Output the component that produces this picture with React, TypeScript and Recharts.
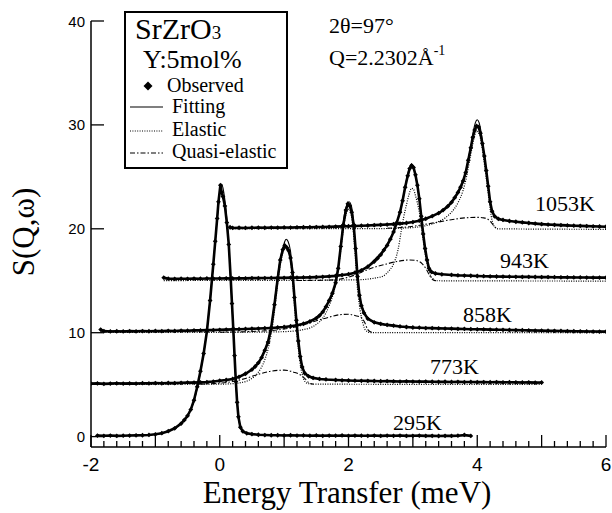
import React from "react";
import { ComposedChart, Line, XAxis, YAxis } from "recharts";

type Pt = [number, number];

const SERIF = "'Liberation Serif', 'DejaVu Serif', serif";
const SANS = "'Liberation Sans', Arial, sans-serif";

const temperatures = ["295K", "773K", "858K", "943K", "1053K"];
const xLabelTicks = [-2, 0, 2, 4, 6];
const yTicks = [0, 10, 20, 30, 40];
// minor ticks every 0.2 meV
const xTicks = Array.from({ length: 41 }, (_, i) => Math.round((-2 + i * 0.2) * 10) / 10);

// ---- 295K (no shift) ----
const obs295: Pt[] = [
  [-1.9, 0.1], [-1.8, 0.08], [-1.7, 0.1], [-1.6, 0.07], [-1.5, 0.09], [-1.4, 0.1], [-1.3, 0.12], [-1.2, 0.13],
  [-1.1, 0.16], [-1.0, 0.22], [-0.9, 0.33], [-0.8, 0.52], [-0.7, 0.8], [-0.6, 1.25], [-0.55, 1.6], [-0.5, 2.0],
  [-0.45, 2.6], [-0.4, 3.5], [-0.35, 4.8], [-0.3, 6.3], [-0.25, 8.0], [-0.2, 10.1], [-0.15, 13.1], [-0.1, 16.6],
  [-0.07, 18.8], [-0.04, 21.0], [-0.02, 22.6], [0.01, 24.2], [0.03, 23.5], [0.05, 23.1], [0.08, 22.2], [0.11, 20.6],
  [0.14, 18.5], [0.17, 15.2], [0.19, 12.8], [0.21, 10.4], [0.23, 7.8], [0.25, 5.3], [0.27, 3.3], [0.29, 1.9],
  [0.32, 0.9], [0.36, 0.5], [0.42, 0.32], [0.5, 0.24], [0.6, 0.18], [0.7, 0.15], [0.8, 0.13], [0.9, 0.13],
  [1.0, 0.11], [1.1, 0.13], [1.2, 0.1], [1.3, 0.11], [1.4, 0.09], [1.5, 0.11], [1.6, 0.08], [1.7, 0.1],
  [1.8, 0.09], [1.9, 0.11], [2.0, 0.08], [2.1, 0.1], [2.2, 0.09], [2.3, 0.08], [2.4, 0.1], [2.5, 0.07],
  [2.6, 0.09], [2.7, 0.08], [2.8, 0.1], [2.9, 0.07], [3.0, 0.08], [3.1, 0.09], [3.2, 0.07], [3.3, 0.08],
  [3.4, 0.06], [3.5, 0.08], [3.6, 0.07], [3.7, 0.09], [3.8, 0.16], [3.9, 0.07],
];
const fit295: Pt[] = [
  [-1.9, 0.09], [-1.2, 0.13], [-1.0, 0.22], [-0.9, 0.33], [-0.8, 0.52], [-0.7, 0.8], [-0.6, 1.25], [-0.5, 2.0],
  [-0.4, 3.4], [-0.3, 6.2], [-0.2, 10.2], [-0.1, 16.6], [-0.05, 20.3], [0.0, 23.3], [0.03, 24.3], [0.06, 23.6],
  [0.1, 21.6], [0.14, 18.5], [0.18, 14.0], [0.22, 9.0], [0.26, 4.3], [0.29, 1.9], [0.33, 0.8], [0.4, 0.35],
  [0.5, 0.24], [0.8, 0.13], [3.9, 0.08],
];

// ---- 773K (shift +1 meV, +5) ----
const obs773: Pt[] = [
  [-2.0, 5.1], [-1.9, 5.12], [-1.8, 5.08], [-1.7, 5.1], [-1.6, 5.13], [-1.5, 5.1], [-1.4, 5.12], [-1.3, 5.1],
  [-1.2, 5.14], [-1.1, 5.12], [-1.0, 5.15], [-0.9, 5.13], [-0.8, 5.16], [-0.7, 5.15], [-0.6, 5.18], [-0.5, 5.2],
  [-0.4, 5.2], [-0.3, 5.22], [-0.2, 5.25], [-0.1, 5.3], [0.0, 5.38], [0.1, 5.45], [0.2, 5.55], [0.3, 5.75],
  [0.4, 6.05], [0.5, 6.45], [0.55, 6.75], [0.6, 7.1], [0.65, 7.6], [0.7, 8.3], [0.75, 9.1], [0.8, 10.5],
  [0.85, 12.7], [0.9, 15.2], [0.94, 17.0], [0.98, 18.0], [1.01, 18.4], [1.04, 18.2], [1.07, 17.9], [1.1, 17.2],
  [1.13, 15.8], [1.16, 13.4], [1.19, 11.2], [1.22, 9.2], [1.25, 7.7], [1.28, 6.7], [1.32, 6.1], [1.38, 5.8],
  [1.45, 5.65], [1.55, 5.55], [1.65, 5.5], [1.8, 5.45], [1.9, 5.42], [2.0, 5.4], [2.1, 5.38], [2.2, 5.37],
  [2.3, 5.36], [2.4, 5.35], [2.5, 5.33], [2.6, 5.34], [2.7, 5.32], [2.8, 5.3], [2.9, 5.32], [3.0, 5.3],
  [3.1, 5.29], [3.2, 5.3], [3.3, 5.28], [3.4, 5.27], [3.5, 5.28], [3.6, 5.26], [3.7, 5.27], [3.8, 5.25],
  [3.9, 5.26], [4.0, 5.24], [4.1, 5.25], [4.2, 5.23], [4.3, 5.24], [4.4, 5.22], [4.5, 5.23], [4.6, 5.22],
  [4.7, 5.21], [4.8, 5.22], [4.9, 5.2], [5.0, 5.21],
];
const fit773: Pt[] = [
  [-2.0, 5.1], [-1.0, 5.14], [-0.5, 5.2], [0.0, 5.38], [0.2, 5.55], [0.4, 6.05], [0.5, 6.45], [0.6, 7.1],
  [0.7, 8.3], [0.75, 9.2], [0.8, 10.6], [0.85, 12.9], [0.9, 15.5], [0.95, 17.4], [1.0, 18.6], [1.03, 19.0],
  [1.06, 18.8], [1.1, 17.8], [1.14, 15.1], [1.18, 11.9], [1.22, 9.3], [1.26, 7.4], [1.3, 6.4], [1.35, 6.0],
  [1.5, 5.6], [1.8, 5.45], [2.5, 5.33], [3.5, 5.27], [5.0, 5.2],
];
const elastic773: Pt[] = [
  [-2.0, 5.02], [0.0, 5.05], [0.2, 5.1], [0.4, 5.3], [0.5, 5.6], [0.6, 6.2], [0.7, 7.4], [0.75, 8.4],
  [0.8, 9.9], [0.85, 12.1], [0.9, 14.7], [0.95, 16.9], [1.0, 18.1], [1.03, 18.4], [1.06, 18.1], [1.1, 17.0],
  [1.14, 14.3], [1.18, 11.1], [1.22, 8.5], [1.26, 6.6], [1.3, 5.6], [1.35, 5.15], [1.45, 5.05], [5.0, 5.02],
];
const quasi773: Pt[] = [
  [-0.3, 5.05], [0.0, 5.15], [0.2, 5.3], [0.4, 5.6], [0.6, 6.0], [0.8, 6.3], [1.0, 6.4], [1.15, 6.2],
  [1.25, 5.95], [1.32, 5.6], [1.38, 5.2], [1.45, 5.05],
];

// ---- 858K (shift +2 meV, +10) ----
const obs858: Pt[] = [
  [-1.85, 10.3], [-1.8, 10.15], [-1.7, 10.12], [-1.6, 10.14], [-1.5, 10.12], [-1.4, 10.15], [-1.3, 10.13],
  [-1.2, 10.16], [-1.1, 10.14], [-1.0, 10.17], [-0.9, 10.15], [-0.8, 10.18], [-0.7, 10.17], [-0.6, 10.2],
  [-0.5, 10.19], [-0.4, 10.22], [-0.3, 10.22], [-0.2, 10.25], [-0.1, 10.25], [0.0, 10.28], [0.1, 10.3],
  [0.2, 10.32], [0.3, 10.34], [0.4, 10.36], [0.5, 10.38], [0.6, 10.4], [0.7, 10.43], [0.8, 10.46], [0.9, 10.5],
  [1.0, 10.55], [1.1, 10.62], [1.2, 10.72], [1.3, 10.86], [1.4, 11.08], [1.5, 11.4], [1.55, 11.65], [1.6, 12.0],
  [1.65, 12.5], [1.7, 13.1], [1.75, 13.8], [1.8, 14.8], [1.84, 16.2], [1.88, 18.3], [1.92, 20.4], [1.96, 21.8],
  [1.99, 22.4], [2.02, 22.2], [2.05, 21.6], [2.08, 20.4], [2.11, 18.1], [2.14, 15.4], [2.17, 13.6], [2.2, 12.6],
  [2.24, 11.9], [2.3, 11.35], [2.4, 11.0], [2.5, 10.85], [2.6, 10.75], [2.7, 10.68], [2.8, 10.6], [2.9, 10.55],
  [3.0, 10.5], [3.1, 10.48], [3.2, 10.45], [3.3, 10.44], [3.4, 10.42], [3.5, 10.4], [3.6, 10.39], [3.7, 10.37],
  [3.8, 10.36], [3.9, 10.34], [4.0, 10.33], [4.1, 10.32], [4.2, 10.3], [4.3, 10.29], [4.4, 10.28], [4.5, 10.26],
  [4.6, 10.25], [4.7, 10.24], [4.8, 10.22], [4.9, 10.21], [5.0, 10.2], [5.1, 10.19], [5.2, 10.18], [5.3, 10.17],
  [5.4, 10.15], [5.5, 10.14], [5.6, 10.13], [5.7, 10.12], [5.8, 10.11], [5.9, 10.1], [6.0, 10.1],
];
const fit858: Pt[] = [
  [-1.85, 10.15], [-1.0, 10.17], [0.0, 10.28], [0.5, 10.38], [1.0, 10.55], [1.2, 10.72], [1.4, 11.1], [1.5, 11.45],
  [1.6, 12.05], [1.68, 12.9], [1.77, 14.1], [1.82, 15.4], [1.86, 17.3], [1.9, 19.6], [1.94, 21.5], [1.98, 22.4],
  [2.01, 22.6], [2.04, 22.3], [2.07, 21.2], [2.1, 18.9], [2.13, 15.9], [2.17, 13.5], [2.23, 12.2], [2.3, 11.4],
  [2.4, 11.0], [2.5, 10.85], [3.0, 10.5], [4.0, 10.33], [5.0, 10.2], [6.0, 10.1],
];
const elastic858: Pt[] = [
  [-1.85, 10.02], [0.5, 10.05], [1.0, 10.1], [1.3, 10.3], [1.5, 10.8], [1.6, 11.4], [1.7, 12.6], [1.77, 13.9],
  [1.82, 15.3], [1.86, 17.0], [1.9, 19.0], [1.94, 20.8], [1.98, 21.7], [2.01, 21.9], [2.04, 21.4], [2.07, 20.0],
  [2.1, 17.8], [2.13, 14.9], [2.17, 12.6], [2.22, 11.0], [2.27, 10.2], [2.35, 10.0], [6.0, 10.0],
];
const quasi858: Pt[] = [
  [0.0, 10.05], [0.5, 10.12], [1.0, 10.35], [1.3, 10.75], [1.5, 11.15], [1.7, 11.5], [1.85, 11.72], [2.0, 11.78],
  [2.1, 11.65], [2.2, 11.45], [2.25, 11.0], [2.3, 10.3], [2.36, 10.05],
];

// ---- 943K (shift +3 meV, +15) ----
const obs943: Pt[] = [
  [-0.87, 15.3], [-0.8, 15.2], [-0.7, 15.18], [-0.6, 15.2], [-0.5, 15.19], [-0.4, 15.21], [-0.3, 15.2],
  [-0.2, 15.22], [-0.1, 15.21], [0.0, 15.22], [0.1, 15.23], [0.2, 15.22], [0.3, 15.24], [0.4, 15.23], [0.5, 15.25],
  [0.6, 15.25], [0.7, 15.26], [0.8, 15.27], [0.9, 15.28], [1.0, 15.28], [1.1, 15.3], [1.2, 15.3], [1.3, 15.32],
  [1.4, 15.33], [1.5, 15.35], [1.6, 15.38], [1.7, 15.42], [1.8, 15.47], [1.9, 15.55], [2.0, 15.63], [2.1, 15.78],
  [2.2, 16.0], [2.3, 16.35], [2.4, 16.85], [2.45, 17.15], [2.5, 17.5], [2.55, 17.95], [2.6, 18.4], [2.65, 19.0],
  [2.7, 19.7], [2.75, 20.6], [2.8, 21.6], [2.84, 22.7], [2.88, 24.0], [2.92, 25.1], [2.95, 25.8], [2.98, 26.1],
  [3.01, 25.9], [3.04, 25.2], [3.07, 24.2], [3.1, 22.9], [3.13, 21.2], [3.16, 19.5], [3.19, 18.1], [3.22, 17.0],
  [3.25, 16.2], [3.29, 15.85], [3.35, 15.7], [3.45, 15.62], [3.6, 15.56], [3.7, 15.52], [3.8, 15.5], [3.9, 15.48],
  [4.0, 15.46], [4.1, 15.44], [4.2, 15.42], [4.3, 15.41], [4.4, 15.4], [4.5, 15.39], [4.6, 15.38], [4.7, 15.37],
  [4.8, 15.37], [4.9, 15.36], [5.0, 15.35], [5.1, 15.35], [5.2, 15.34], [5.3, 15.33], [5.4, 15.33], [5.5, 15.32],
  [5.6, 15.32], [5.7, 15.31], [5.8, 15.3], [5.9, 15.3], [6.0, 15.3],
];
const fit943: Pt[] = [
  [-0.87, 15.2], [0.0, 15.22], [1.0, 15.28], [1.5, 15.35], [1.8, 15.47], [2.0, 15.63], [2.2, 16.0], [2.3, 16.4],
  [2.43, 17.2], [2.56, 18.1], [2.67, 19.3], [2.74, 20.5], [2.81, 21.8], [2.86, 23.4], [2.91, 25.0], [2.95, 25.9],
  [2.98, 26.2], [3.01, 26.0], [3.03, 25.4], [3.08, 23.8], [3.13, 21.2], [3.17, 18.9], [3.22, 17.0], [3.26, 15.95],
  [3.3, 15.75], [3.5, 15.6], [4.2, 15.42], [5.0, 15.35], [6.0, 15.3],
];
const elastic943: Pt[] = [
  [-0.87, 15.02], [1.5, 15.05], [2.17, 15.1], [2.4, 15.25], [2.54, 15.45], [2.62, 15.9], [2.69, 16.5], [2.77, 18.0],
  [2.82, 19.8], [2.86, 21.2], [2.9, 22.3], [2.94, 23.3], [2.98, 23.9], [3.01, 23.8], [3.04, 23.2], [3.07, 22.5],
  [3.1, 21.6], [3.14, 19.9], [3.18, 18.0], [3.22, 16.6], [3.26, 15.7], [3.31, 15.2], [3.36, 15.0], [6.0, 14.97],
];
const quasi943: Pt[] = [
  [1.2, 15.02], [1.6, 15.05], [1.8, 15.1], [2.0, 15.35], [2.12, 15.6], [2.25, 15.95], [2.4, 16.3], [2.55, 16.55],
  [2.75, 16.85], [2.95, 17.0], [3.05, 16.95], [3.15, 16.6], [3.21, 16.1], [3.26, 15.5], [3.31, 15.1], [3.36, 15.0],
];

// ---- 1053K (shift +4 meV, +20) ----
const obs1053: Pt[] = [
  [0.16, 20.15], [0.2, 20.08], [0.3, 20.1], [0.4, 20.08], [0.5, 20.1], [0.6, 20.11], [0.7, 20.1], [0.8, 20.12],
  [0.9, 20.11], [1.0, 20.13], [1.1, 20.12], [1.2, 20.14], [1.3, 20.15], [1.4, 20.15], [1.5, 20.17], [1.6, 20.18],
  [1.7, 20.19], [1.8, 20.21], [1.9, 20.23], [2.0, 20.25], [2.1, 20.27], [2.2, 20.3], [2.3, 20.32], [2.4, 20.35],
  [2.5, 20.38], [2.6, 20.41], [2.7, 20.45], [2.8, 20.5], [2.9, 20.56], [3.0, 20.65], [3.1, 20.78], [3.2, 20.97],
  [3.3, 21.22], [3.4, 21.5], [3.47, 21.8], [3.54, 22.15], [3.6, 22.55], [3.65, 23.0], [3.7, 23.5], [3.74, 24.0],
  [3.78, 24.6], [3.82, 25.4], [3.86, 26.6], [3.9, 27.8], [3.93, 28.8], [3.96, 29.5], [3.99, 29.9], [4.02, 29.8],
  [4.05, 29.2], [4.08, 28.2], [4.11, 27.0], [4.14, 25.6], [4.17, 24.1], [4.2, 22.6], [4.23, 21.7], [4.27, 21.2],
  [4.33, 20.95], [4.4, 20.85], [4.5, 20.75], [4.6, 20.68], [4.7, 20.62], [4.8, 20.56], [4.9, 20.5], [5.0, 20.45],
  [5.1, 20.41], [5.2, 20.38], [5.3, 20.35], [5.4, 20.33], [5.5, 20.3], [5.6, 20.28], [5.7, 20.26], [5.8, 20.24],
  [5.9, 20.22], [6.0, 20.2],
];
const fit1053: Pt[] = [
  [0.16, 20.08], [1.0, 20.12], [2.0, 20.25], [2.5, 20.38], [2.85, 20.52], [3.11, 20.8], [3.31, 21.25], [3.47, 21.8],
  [3.6, 22.5], [3.7, 23.4], [3.78, 24.5], [3.83, 25.7], [3.87, 27.0], [3.91, 28.2], [3.94, 29.4], [3.97, 30.2],
  [4.0, 30.5], [4.03, 30.2], [4.06, 29.3], [4.09, 27.9], [4.13, 26.0], [4.17, 24.1], [4.2, 22.5], [4.24, 21.5],
  [4.32, 21.0], [4.55, 20.7], [5.07, 20.4], [6.0, 20.2],
];
const elastic1053: Pt[] = [
  [0.16, 20.02], [2.4, 20.02], [2.8, 20.06], [3.0, 20.12], [3.2, 20.3], [3.4, 20.7], [3.5, 21.05], [3.6, 21.6],
  [3.7, 22.5], [3.78, 23.7], [3.83, 24.9], [3.87, 26.2], [3.91, 27.5], [3.95, 28.7], [3.99, 29.4], [4.02, 29.3],
  [4.05, 28.7], [4.09, 27.2], [4.13, 25.3], [4.17, 23.4], [4.2, 21.9], [4.23, 20.8], [4.27, 20.2], [4.32, 20.0],
  [6.0, 19.95],
];
const quasi1053: Pt[] = [
  [2.6, 20.05], [2.95, 20.2], [3.3, 20.55], [3.62, 20.9], [3.8, 21.05], [4.0, 21.1], [4.1, 21.05], [4.17, 20.9],
  [4.22, 20.6], [4.27, 20.2], [4.32, 20.02],
];

const toRows = (pts: Pt[]) => pts.map(([e, s]) => ({ e, s }));

const curves = [
  { id: temperatures[0], obs: obs295, fit: fit295, elastic: null, quasi: null },
  { id: temperatures[1], obs: obs773, fit: fit773, elastic: elastic773, quasi: quasi773 },
  { id: temperatures[2], obs: obs858, fit: fit858, elastic: elastic858, quasi: quasi858 },
  { id: temperatures[3], obs: obs943, fit: fit943, elastic: elastic943, quasi: quasi943 },
  { id: temperatures[4], obs: obs1053, fit: fit1053, elastic: elastic1053, quasi: quasi1053 },
];

// label positions for each temperature (pixels)
const curveLabels = [
  { text: "295K", x: 393, y: 430 },
  { text: "773K", x: 430, y: 374 },
  { text: "858K", x: 463, y: 322 },
  { text: "943K", x: 500, y: 268 },
  { text: "1053K", x: 535, y: 211 },
];

const diamondPath = (cx: number, cy: number, r: number) =>
  `M${cx},${cy - r}L${cx + r},${cy}L${cx},${cy + r}L${cx - r},${cy}Z`;

const serifStyle = (size: number): React.CSSProperties => ({ fontFamily: SERIF, fontSize: size });

const XTick = ({ x, y, payload }: any) => {
  const v = payload.value;
  const major = Math.abs(v - Math.round(v)) < 1e-6;
  return (
    <g>
      <line x1={x} x2={x} y1={y} y2={y - (major ? 12 : 6)} stroke="#000" strokeWidth={1.3} />
      {xLabelTicks.includes(v) && (
        <text x={x} y={y + 24} textAnchor="middle" style={{ fontFamily: SANS, fontSize: 19 }} fill="#000">
          {v}
        </text>
      )}
    </g>
  );
};

const YTick = ({ x, y, payload }: any) => (
  <g>
    <line x1={x} x2={x + 13} y1={y} y2={y} stroke="#000" strokeWidth={1.3} />
    <text x={x - 6} y={y + 5.5} textAnchor="end" style={{ fontFamily: SANS, fontSize: 15 }} fill="#000">
      {payload.value}
    </text>
  </g>
);

export default function App() {
  const series: React.ReactNode[] = [];
  curves.forEach((c) => {
    if (c.elastic) {
      series.push(
        <Line key={`el-${c.id}`} data={toRows(c.elastic)} dataKey="s" type="monotone" stroke="#000"
          strokeWidth={1.2} strokeDasharray="1 1.4" dot={false} activeDot={false} isAnimationActive={false} />
      );
    }
    if (c.quasi) {
      series.push(
        <Line key={`qe-${c.id}`} data={toRows(c.quasi)} dataKey="s" type="monotone" stroke="#000"
          strokeWidth={1.1} strokeDasharray="5 2 1.5 2" dot={false} activeDot={false} isAnimationActive={false} />
      );
    }
    series.push(
      <Line key={`ob-${c.id}`} data={toRows(c.obs)} dataKey="s" type="linear" stroke="#000" strokeWidth={2.6}
        activeDot={false} isAnimationActive={false}
        dot={(p: any) => <path key={`d-${c.id}-${p.index}`} d={diamondPath(p.cx, p.cy, 2.4)} fill="#000" />} />
    );
    series.push(
      <Line key={`fi-${c.id}`} data={toRows(c.fit)} dataKey="s" type="monotone" stroke="#000"
        strokeWidth={1.1} dot={false} activeDot={false} isAnimationActive={false} />
    );
  });

  return (
    <div style={{ position: "absolute", left: 0, top: 0, width: 612, height: 513, background: "#fff" }}>
      <ComposedChart width={612} height={513} margin={{ top: 21, right: 6, bottom: 0, left: 0 }}>
        <XAxis type="number" dataKey="e" domain={[-2, 6]} ticks={xTicks} interval={0} allowDataOverflow
          tick={(p: any) => <XTick {...p} />} tickLine={false} tickSize={0} tickMargin={0} height={66}
          axisLine={{ stroke: "#000", strokeWidth: 1.5 }} />
        <YAxis type="number" domain={[-1, 40]} ticks={yTicks} interval={0} allowDataOverflow
          tick={(p: any) => <YTick {...p} />} tickLine={false} tickSize={0} tickMargin={0} width={91}
          axisLine={{ stroke: "#000", strokeWidth: 1.5 }} />
        {series}
      </ComposedChart>

      <svg width={612} height={513} style={{ position: "absolute", left: 0, top: 0, pointerEvents: "none" }}>
        {/* legend */}
        <rect x={125} y={12} width={162} height={156} fill="#fff" stroke="#000" strokeWidth={2} />
        <text x={135} y={39} style={serifStyle(30)}>
          SrZrO<tspan style={{ fontSize: 19 }}>3</tspan>
        </text>
        <text x={143} y={68} style={serifStyle(26)}>Y:5mol%</text>
        <path d={diamondPath(148, 86, 4.5)} fill="#000" />
        <text x={167} y={92} style={serifStyle(20)}>Observed</text>
        <line x1={130} x2={163} y1={107} y2={107} stroke="#000" strokeWidth={1.1} />
        <text x={172} y={113} style={serifStyle(20)}>Fitting</text>
        <line x1={130} x2={163} y1={131} y2={131} stroke="#000" strokeWidth={1.2} strokeDasharray="1 1.4" />
        <text x={172} y={136} style={serifStyle(20)}>Elastic</text>
        <line x1={130} x2={163} y1={153} y2={153} stroke="#000" strokeWidth={1.1} strokeDasharray="5 2 1.5 2" />
        <text x={172} y={158} style={serifStyle(20)}>Quasi-elastic</text>

        {/* measurement conditions */}
        <text x={329} y={33} style={serifStyle(22)}>2θ=97°</text>
        <text x={329} y={65} style={serifStyle(22)}>
          Q=2.2302Å<tspan style={{ fontSize: 14 }} dy={-10}>-1</tspan>
        </text>

        {curveLabels.map((l) => (
          <text key={l.text} x={l.x} y={l.y} style={serifStyle(22)}>{l.text}</text>
        ))}

        {/* axis titles */}
        <text x={347} y={503} textAnchor="middle" style={serifStyle(31)}>Energy Transfer (meV)</text>
        <text x={34} y={232} textAnchor="middle" style={serifStyle(31)} transform="rotate(-90 34 232)">
          S(Q,ω)
        </text>
      </svg>
    </div>
  );
}
